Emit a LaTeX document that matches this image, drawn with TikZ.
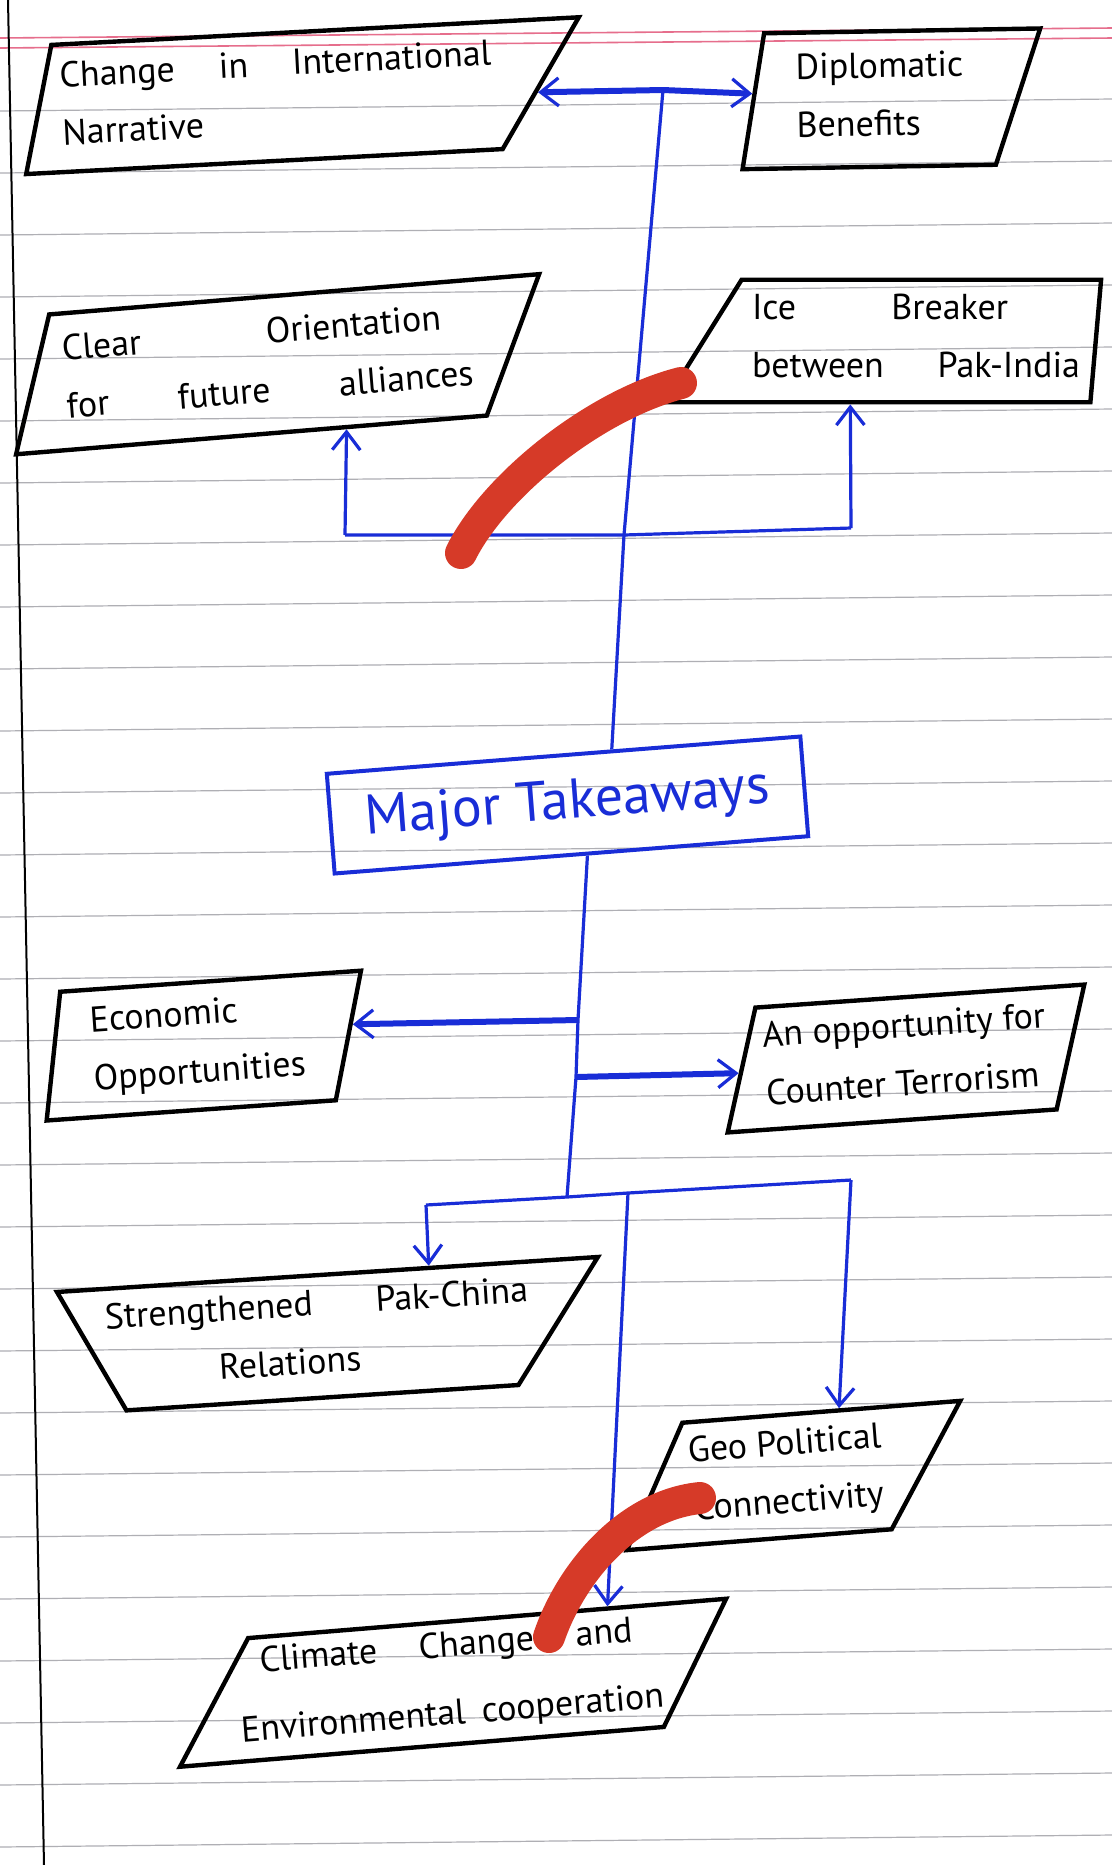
\documentclass[tikz,border=0pt]{standalone}
\usepackage{fontspec}
\setmainfont{PT Sans}
\usetikzlibrary{shapes.geometric,arrows.meta}
\definecolor{penblue}{RGB}{25,45,215}
\definecolor{marker}{RGB}{214,58,40}
\definecolor{ruling}{RGB}{175,175,180}
\definecolor{marginred}{RGB}{230,110,140}
\tikzset{
  slantbox/.style={shape=trapezium, draw, line width=2.2pt, trapezium stretches body,
    inner xsep=2pt, align=left, font=\fontsize{18}{29}\selectfont,
    execute at begin node=\rule{0pt}{14pt},
    execute at end node=\rule[-5pt]{0pt}{5pt}},
  link/.style={penblue, line width=1.6pt},
  boldlink/.style={penblue, line width=3pt},
  arrowed/.style={-{Straight Barb[length=9pt,width=14pt,line width=1.6pt]}},
}
\begin{document}
\begin{tikzpicture}[x=0.5pt, y=-0.5pt]
  % Foglio
  \useasboundingbox (0,0) rectangle (1112,1865);
  \fill[white] (0,0) rectangle (1112,1865);
  \foreach \k in {0,...,28}
    \draw[ruling, line width=0.6pt] (0,{111+62*\k}) -- (1112,{99+62*\k});
  \draw[marginred, line width=0.8pt] (0,38) -- (1112,28);
  \draw[marginred, line width=0.8pt] (0,48) -- (1112,38);
  \draw[line width=1pt] (8,0) -- (44,1865);

  % Caselle in alto
  \node[slantbox, minimum width=280pt, inner ysep=8.5pt, trapezium left angle=76, trapezium right angle=123, rotate=3] (change) at (277,97) {\makebox[216pt][s]{Change in International}\\Narrative};
  \node[slantbox, minimum width=150pt, inner ysep=10.5pt, trapezium left angle=80, trapezium right angle=109, rotate=1] (diplo) at (880,99) {Diplomatic\\Benefits};
  \node[slantbox, minimum width=268pt, inner ysep=10.75pt, trapezium left angle=72, trapezium right angle=115, rotate=4.7] (clear) at (268,365) {\makebox[190pt][s]{Clear Orientation}\\\makebox[204pt][s]{for future alliances}};
  \node[slantbox, minimum width=218pt, inner ysep=7.25pt, trapezium left angle=58, trapezium right angle=95] (ice) at (916,341) {\makebox[128pt][s]{Ice Breaker}\\\makebox[164pt][s]{between Pak-India}};

  % Centro
  \node[draw=penblue, line width=2pt, text=penblue, minimum width=237.5pt, minimum height=50pt, rotate=4.5, font=\fontsize{28}{34}\selectfont] (mt) at (567.5,805) {Major Takeaways};

  % Caselle in basso
  \node[slantbox, minimum width=162pt, inner ysep=8.5pt, trapezium left angle=80, trapezium right angle=105, rotate=4] (econ) at (198,1046) {Economic\\Opportunities};
  \node[slantbox, minimum width=183pt, inner ysep=7.25pt, trapezium left angle=73.5, trapezium right angle=106.5, rotate=4] (opp) at (906,1058.5) {An opportunity for\\Counter Terrorism};
  \node[slantbox, align=center, minimum width=271pt, inner ysep=7.25pt, trapezium left angle=116.7, trapezium right angle=125.5, rotate=3.7] (strength) at (318.5,1336.5) {\makebox[188pt]{\makebox[212pt][s]{Strengthened Pak-China}}\\Relations\hspace*{30pt}};
  \node[slantbox, align=center, minimum width=172pt, inner ysep=7.25pt, trapezium left angle=62, trapezium right angle=122.6, rotate=4.5] (geo) at (787,1476) {\makebox[90pt]{Geo Political}\\\makebox[90pt]{Connectivity}};
  \node[slantbox, minimum width=279pt, inner ysep=4.75pt, trapezium left angle=57.4, trapezium right angle=120.6, rotate=4.7, font=\fontsize{18}{34}\selectfont] (climate) at (456,1682.5) {\makebox[187pt][s]{Climate Change and}\\\makebox[194pt][l]{\hspace*{-12pt}\makebox[212pt][s]{Environmental cooperation}}};

  % Collegamenti in alto
  \coordinate (topj) at (663,90);
  \coordinate (midj) at (624,535);
  \coordinate (upl) at (345,535);
  \coordinate (upr) at (851,528);
  \draw[boldlink, arrowed] (topj) -- (change);
  \draw[boldlink, arrowed] (topj) -- (diplo);
  \draw[link] (mt.47) -- (midj) -- (topj);
  \draw[link] (upl) -- (midj) -- (upr);
  \draw[link, arrowed] (upl) -- (clear.-44);
  \draw[link, arrowed] (upr) -- (ice.224);

  % Collegamenti in basso
  \coordinate (econj) at (578,1020);
  \coordinate (oppj) at (576,1077);
  \coordinate (botj) at (567,1197);
  \coordinate (lowl) at (426,1205);
  \coordinate (lowm) at (628,1193);
  \coordinate (lowr) at (851,1180);
  \draw[link] (mt.-73) -- (econj) -- (oppj) -- (botj);
  \draw[boldlink, arrowed] (econj) -- (econ.4);
  \draw[boldlink, arrowed] (oppj) -- (opp.181);
  \draw[link] (lowl) -- (botj) -- (lowm) -- (lowr);
  \draw[link, arrowed] (lowl) -- (strength.29);
  \draw[link, arrowed] (lowm) -- (climate.22);
  \draw[link, arrowed] (lowr) -- (geo.48);

  % Segni rossi
  \draw[marker, line width=16pt, line cap=round] (461,553) .. controls (495,485) and (595,405) .. (681,383);
  \draw[marker, line width=16pt, line cap=round] (549,1637) .. controls (572,1570) and (630,1505) .. (700,1498);
\end{tikzpicture}
\end{document}
